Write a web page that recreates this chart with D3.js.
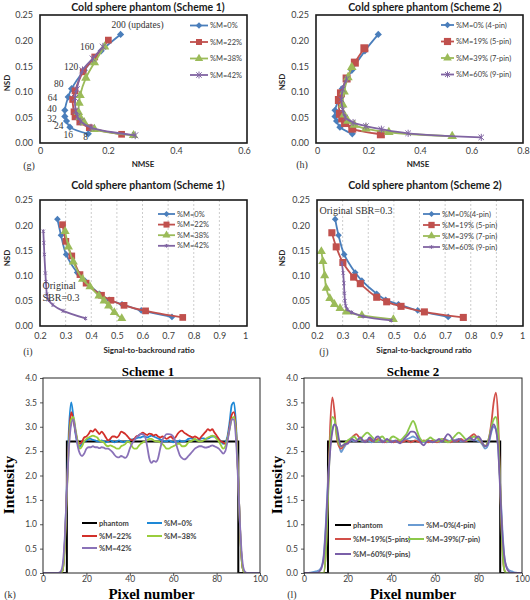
<!DOCTYPE html>
<html><head><meta charset="utf-8">
<script src="https://cdn.jsdelivr.net/npm/d3@7"></script>
<style>body{margin:0;background:#fff}svg{display:block}</style>
</head><body><svg id="c" width="530" height="600"></svg>
<script>
// ---------- DATA ----------
const updates = [200,160,120,80,64,40,32,24,16,8];
// Scheme 1 (g, i)
const nsd1_m0  = [0.212,0.180,0.142,0.106,0.090,0.064,0.052,0.043,0.031,0.018];
const nmse1_m0 = [0.237,0.180,0.130,0.093,0.083,0.073,0.073,0.078,0.088,0.142];
const nsd1_m22 = [0.201,0.168,0.139,0.102,0.085,0.061,0.051,0.041,0.030,0.017];
const nmse1_m22= [0.201,0.161,0.127,0.103,0.096,0.100,0.103,0.117,0.145,0.240];
const nsd1_m38 = [0.188,0.157,0.127,0.093,0.078,0.060,0.050,0.040,0.027,0.015];
const nmse1_m38= [0.190,0.160,0.135,0.118,0.115,0.113,0.118,0.130,0.160,0.275];
const nsd1_m42 = [0.188,0.165,0.142,0.105,0.088,0.063,0.052,0.042,0.030,0.015];
const nmse1_m42= [0.185,0.155,0.125,0.108,0.103,0.105,0.110,0.120,0.150,0.280];
const sbr1_m0  = [0.268,0.282,0.302,0.345,0.375,0.432,0.470,0.520,0.595,0.715];
const sbr1_m22 = [0.288,0.301,0.324,0.356,0.380,0.440,0.477,0.528,0.612,0.757];
const sbr1_m38 = [0.298,0.311,0.330,0.366,0.395,0.430,0.450,0.468,0.490,0.519];
const sbr1_m42 = [0.213,0.215,0.217,0.221,0.223,0.227,0.233,0.250,0.290,0.378];
// Scheme 2 (h, j)
const nsd2_m0  = [0.212,0.180,0.142,0.106,0.090,0.064,0.052,0.043,0.031,0.018];
const nmse2_m0 = [0.238,0.186,0.135,0.098,0.088,0.070,0.070,0.076,0.089,0.137];
const nsd2_m19 = [0.185,0.157,0.126,0.097,0.084,0.057,0.048,0.039,0.028,0.017];
const nmse2_m19= [0.184,0.147,0.115,0.093,0.085,0.089,0.098,0.109,0.137,0.248];
const nsd2_m39 = [0.148,0.128,0.100,0.075,0.055,0.043,0.035,0.028,0.021,0.013];
const nmse2_m39= [0.135,0.120,0.105,0.100,0.105,0.120,0.145,0.190,0.279,0.525];
const nsd2_m60 = [0.125,0.105,0.085,0.065,0.050,0.040,0.033,0.027,0.019,0.011];
const nmse2_m60= [0.115,0.100,0.095,0.100,0.110,0.140,0.190,0.250,0.354,0.638];
const sbr2_m0  = [0.271,0.284,0.306,0.349,0.375,0.433,0.468,0.518,0.593,0.712];
const sbr2_m19 = [0.258,0.275,0.301,0.343,0.369,0.433,0.472,0.528,0.619,0.771];
const sbr2_m39 = [0.217,0.223,0.230,0.236,0.250,0.268,0.290,0.315,0.375,0.498];
const sbr2_m60 = [0.297,0.302,0.305,0.307,0.309,0.312,0.318,0.335,0.380,0.490];

const names1 = ["%M=0%","%M=22%","%M=38%","%M=42%"];
const names2 = ["%M=0% (4-pin)","%M=19% (5-pin)","%M=39% (7-pin)","%M=60% (9-pin)"];
const names2b = ["%M=0%(4-pin)","%M=19% (5-pin)","%M=39% (7-pin)","%M=60% (9-pin)"];
const namesK = ["phantom","%M=0%","%M=22%","%M=38%","%M=42%"];
const namesL = ["phantom","%M=0%(4-pin)","%M=19%(5-pins)","%M=39%(7-pin)","%M=60%(9-pins)"];

const nsdTicks = [0,0.05,0.10,0.15,0.20,0.25];
const nmseTicks1 = [0,0.2,0.4,0.6];
const nmseTicks2 = [0,0.2,0.4,0.6,0.8];
const sbrTicks = [0.2,0.3,0.4,0.5,0.6,0.7,0.8,0.9,1];
const intTicks = [0,0.5,1,1.5,2,2.5,3,3.5,4];
const pixTicks = [0,20,40,60,80,100];

// Line profiles (pixel 0..100)
const pixels = d3.range(0,101);
const phantomX = [0,11,11,90,90,100];
const phantomY = [0,0,2.7,2.7,0,0];
const k_m0 = [0,0,0,0,0,0,0,0,0,
 0.05,0.6,1.8,3.0,3.5,3.2,2.85,2.65,2.6,2.65,2.7,
 2.72,2.75,2.75,2.73,2.72,2.7,2.7,2.72,2.7,2.68,
 2.7,2.72,2.7,2.68,2.7,2.72,2.7,2.68,2.7,2.7,
 2.72,2.74,2.75,2.76,2.78,2.78,2.8,2.8,2.78,2.8,
 2.82,2.8,2.78,2.76,2.74,2.72,2.7,2.7,2.72,2.7,
 2.68,2.7,2.7,2.72,2.7,2.7,2.72,2.75,2.76,2.75,
 2.74,2.72,2.74,2.76,2.76,2.75,2.76,2.78,2.8,2.8,
 2.78,2.75,2.7,2.65,2.68,2.8,3.1,3.45,3.5,3.0,
 1.9,0.7,0.1,0,0,0,0,0,0,0,0];
const k_m22 = [0,0,0,0,0,0,0,0,0,
 0.05,0.55,1.7,2.8,3.3,3.15,2.9,2.7,2.65,2.7,2.78,
 2.8,2.85,2.92,2.9,2.95,2.9,2.85,2.9,2.85,2.78,
 2.72,2.75,2.8,2.8,2.78,2.82,2.9,2.88,2.85,2.8,
 2.75,2.72,2.75,2.8,2.82,2.85,2.88,2.85,2.83,2.86,
 2.85,2.82,2.84,2.8,2.78,2.8,2.78,2.75,2.78,2.8,
 2.75,2.78,2.85,2.9,2.92,2.88,2.85,2.82,2.8,2.78,
 2.8,2.78,2.75,2.8,2.85,2.9,2.95,2.92,2.95,2.88,
 2.82,2.75,2.7,2.68,2.65,2.75,3.0,3.25,3.3,2.9,
 1.9,0.7,0.1,0,0,0,0,0,0,0,0];
const k_m38 = [0,0,0,0,0,0,0,0,0,
 0.05,0.5,1.6,2.7,3.15,3.2,2.95,2.7,2.55,2.6,2.7,
 2.75,2.78,2.8,2.82,2.8,2.78,2.72,2.7,2.68,2.62,
 2.6,2.62,2.6,2.58,2.55,2.55,2.6,2.62,2.65,2.7,
 2.68,2.6,2.55,2.55,2.6,2.65,2.68,2.7,2.72,2.75,
 2.75,2.72,2.7,2.7,2.68,2.65,2.6,2.55,2.55,2.58,
 2.6,2.62,2.65,2.65,2.6,2.6,2.62,2.68,2.7,2.72,
 2.75,2.72,2.7,2.7,2.72,2.75,2.78,2.8,2.82,2.8,
 2.75,2.7,2.62,2.55,2.6,2.75,2.95,3.15,3.2,2.85,
 1.9,0.7,0.1,0,0,0,0,0,0,0,0];
const k_m42 = [0,0,0,0,0,0,0,0,
 0.02,0.15,0.7,1.7,2.6,3.05,3.15,2.9,2.6,2.45,2.4,2.45,
 2.55,2.58,2.58,2.6,2.58,2.58,2.56,2.58,2.57,2.55,
 2.55,2.52,2.48,2.42,2.38,2.37,2.4,2.38,2.36,2.42,
 2.55,2.65,2.72,2.78,2.82,2.85,2.85,2.8,2.6,2.35,
 2.26,2.3,2.28,2.35,2.55,2.72,2.8,2.85,2.85,2.84,
 2.8,2.7,2.55,2.42,2.36,2.33,2.35,2.4,2.45,2.5,
 2.55,2.58,2.6,2.6,2.58,2.57,2.58,2.6,2.62,2.6,
 2.58,2.55,2.5,2.45,2.5,2.7,2.95,3.15,3.15,2.7,
 1.8,0.8,0.2,0.03,0,0,0,0,0,0,0];
const l_m0 = [0,0,0,
 0.01,0.02,0.03,0.04,0.06,0.12,0.35,1.0,1.9,2.6,2.95,3.05,2.95,2.65,2.48,2.55,2.62,
 2.68,2.7,2.72,2.7,2.72,2.74,2.72,2.7,2.72,2.72,
 2.7,2.68,2.7,2.72,2.7,2.7,2.72,2.7,2.68,2.7,
 2.72,2.7,2.7,2.72,2.7,2.7,2.72,2.74,2.76,2.78,
 2.8,2.78,2.75,2.72,2.7,2.68,2.7,2.72,2.7,2.7,
 2.72,2.7,2.68,2.7,2.72,2.74,2.72,2.7,2.7,2.72,
 2.74,2.72,2.7,2.7,2.72,2.74,2.75,2.74,2.72,2.72,
 2.7,2.68,2.62,2.55,2.58,2.7,2.9,3.0,2.95,2.6,
 1.8,0.9,0.3,0.12,0.06,0.04,0.02,0.01,0,0,0];
const l_m19 = [0,0,0,0,0,0,0,0,0,0,
 0.4,1.6,3.0,3.6,3.3,2.8,2.6,2.55,2.6,2.65,
 2.7,2.72,2.78,2.82,2.85,2.8,2.75,2.72,2.7,2.72,
 2.75,2.72,2.7,2.72,2.75,2.72,2.7,2.68,2.7,2.72,
 2.7,2.68,2.7,2.72,2.7,2.68,2.7,2.72,2.7,2.68,
 2.7,2.72,2.7,2.68,2.7,2.72,2.7,2.68,2.7,2.72,
 2.7,2.68,2.7,2.72,2.75,2.72,2.7,2.68,2.7,2.72,
 2.7,2.72,2.75,2.72,2.7,2.72,2.78,2.82,2.85,2.8,
 2.75,2.7,2.65,2.6,2.65,2.8,3.1,3.5,3.7,3.2,
 1.8,0.5,0.05,0,0,0,0,0,0,0,0];
const l_m39 = [0,0,0,0,0,0,0,0,0,0,
 0.4,1.5,2.7,3.2,3.15,2.85,2.65,2.6,2.62,2.68,
 2.72,2.75,2.78,2.8,2.75,2.72,2.75,2.8,2.85,2.88,
 2.85,2.8,2.75,2.7,2.72,2.78,2.8,2.75,2.7,2.72,
 2.78,2.8,2.78,2.75,2.72,2.75,2.8,2.85,2.95,3.05,
 3.12,3.05,2.9,2.78,2.72,2.7,2.72,2.75,2.78,2.75,
 2.72,2.7,2.72,2.75,2.72,2.7,2.68,2.7,2.75,2.8,
 2.85,2.88,2.85,2.8,2.75,2.72,2.75,2.78,2.8,2.78,
 2.75,2.72,2.65,2.6,2.65,2.8,3.0,3.15,3.2,2.9,
 1.8,0.5,0.05,0,0,0,0,0,0,0,0];
const l_m60 = [0,0,0,0,0,0,0,
 0.03,0.1,0.3,0.9,1.8,2.5,2.9,3.05,3.0,2.75,2.6,2.62,2.65,
 2.65,2.7,2.75,2.72,2.7,2.75,2.78,2.72,2.68,2.72,
 2.78,2.75,2.7,2.78,2.8,2.75,2.68,2.7,2.75,2.72,
 2.68,2.7,2.72,2.68,2.66,2.7,2.75,2.8,2.85,2.9,
 2.9,2.88,2.8,2.72,2.65,2.62,2.68,2.72,2.7,2.68,
 2.7,2.72,2.75,2.7,2.72,2.8,2.85,2.82,2.75,2.7,
 2.72,2.75,2.72,2.7,2.72,2.75,2.78,2.75,2.72,2.78,
 2.8,2.75,2.65,2.6,2.62,2.75,2.95,3.05,2.95,2.6,
 1.7,0.8,0.3,0.1,0.03,0,0,0,0,0,0];

// ---------- STYLE ----------
const SANS = 'Lato, "Open Sans", sans-serif';
const SERIF = '"Liberation Serif", "DejaVu Serif", serif';
const C = {blue:"#4a7ebb", red:"#c0504d", green:"#9bbb59", purple:"#8064a2"};
const svg = d3.select("#c");

function drawMarker(g, type, x, y, size, color){
  if(type==="diamond"){
    g.append("path").attr("d", d3.symbol(d3.symbolSquare, size)())
     .attr("transform",`translate(${x},${y}) rotate(45)`).attr("fill",color);
  } else if(type==="square"){
    g.append("path").attr("d", d3.symbol(d3.symbolSquare, size)())
     .attr("transform",`translate(${x},${y})`).attr("fill",color);
  } else if(type==="triangle"){
    g.append("path").attr("d", d3.symbol(d3.symbolTriangle, size)())
     .attr("transform",`translate(${x},${y})`).attr("fill",color);
  } else if(type==="star"){
    const s = Math.sqrt(size)/2;
    g.append("path").attr("d",`M${-s},${-s}L${s},${s}M${-s},${s}L${s},${-s}M0,${-s*1.3}L0,${s*1.3}`)
     .attr("transform",`translate(${x},${y})`).attr("stroke",color).attr("stroke-width",1).attr("fill","none");
  }
}

function scatterPanel(o){
  const g = svg.append("g");
  const x = d3.scaleLinear().domain(o.xDomain).range(o.xRange);
  const y = d3.scaleLinear().domain([0,0.25]).range(o.yRange);
  if(o.grid){
    g.selectAll("line.grid").data(o.xTicks.slice(1,-1)).join("line")
      .attr("x1",d=>x(d)).attr("x2",d=>x(d)).attr("y1",o.yRange[0]).attr("y2",o.yRange[1])
      .attr("stroke","#bfbfbf").attr("stroke-width",0.8).attr("stroke-dasharray","2,2");
  }
  // axes
  const ax = g.append("g").attr("transform",`translate(0,${o.yRange[0]})`)
    .call(d3.axisBottom(x).tickValues(o.xTicks).tickSize(0).tickPadding(o.xPad).tickFormat(o.xFmt));
  ax.select(".domain").remove();
  ax.selectAll("text").attr("font-family",SANS).attr("font-size",9).attr("fill","#404040");
  const ay = g.append("g").attr("transform",`translate(${o.frame[0]},0)`)
    .call(d3.axisLeft(y).tickValues(nsdTicks).tickSize(0).tickPadding(7).tickFormat(d3.format(".2f")));
  ay.select(".domain").remove();
  ay.selectAll("text").attr("font-family",SANS).attr("font-size",9).attr("fill","#404040");
  // series
  o.series.forEach(s=>{
    const pts = s.x.map((v,i)=>[x(v), y(s.y[i])]);
    g.append("path").attr("d", d3.line().curve(d3.curveCatmullRom.alpha(0.5))(pts))
      .attr("fill","none").attr("stroke",s.color).attr("stroke-width",1.8);
    pts.forEach(p=>drawMarker(g, s.marker, p[0], p[1], s.size, s.color));
  });
  // frame
  g.append("rect").attr("x",o.frame[0]).attr("y",o.frame[1])
    .attr("width",o.frame[2]-o.frame[0]).attr("height",o.frame[3]-o.frame[1])
    .attr("fill","none").attr("stroke","#1a1a1a").attr("stroke-width",1.6);
  // legend
  o.series.forEach((s,i)=>{
    const ly = o.legend.y + i*o.legend.dy;
    g.append("line").attr("x1",o.legend.x).attr("x2",o.legend.x+o.legend.len)
      .attr("y1",ly).attr("y2",ly).attr("stroke",s.color).attr("stroke-width",1.8);
    drawMarker(g, s.marker, o.legend.x+o.legend.len/2, ly, s.size*0.8, s.color);
    g.append("text").attr("x",o.legend.x+o.legend.len+2).attr("y",ly).attr("dy","0.35em")
      .attr("font-family",SANS).attr("font-size",7.5).attr("fill","#404040").text(o.names[i]);
  });
  // titles
  g.append("text").attr("x",o.title[0]).attr("y",o.title[1]).attr("dy","0.35em").attr("text-anchor","middle")
    .attr("font-family",SANS).attr("font-weight","bold").attr("font-size",10.5).attr("fill","#1a1a1a").text(o.title[2]);
  g.append("text").attr("x",o.xlab[0]).attr("y",o.xlab[1]).attr("dy","0.35em").attr("text-anchor","middle")
    .attr("font-family",SANS).attr("font-weight","bold").attr("font-size",8).attr("fill","#262626").text(o.xlab[2]);
  g.append("text").attr("transform",`translate(${o.ylab[0]},${o.ylab[1]}) rotate(-90)`).attr("dy","0.35em").attr("text-anchor","middle")
    .attr("font-family",SANS).attr("font-weight","bold").attr("font-size",8).attr("fill","#262626").text("NSD");
  g.append("text").attr("x",o.letter[0]).attr("y",o.letter[1]).attr("dy","0.35em").attr("text-anchor","middle")
    .attr("font-family",SERIF).attr("font-size",10).attr("fill","#333").text(o.letter[2]);
  return {g,x,y};
}

const fmt1 = d => d===0 ? "0" : d3.format(".1f")(d);
const fmtS = d => d===1 ? "1" : d3.format(".1f")(d);

// (g)
const pg = scatterPanel({
  xDomain:[0,0.6], xRange:[40,244], yRange:[143,15], frame:[40,15,247,143],
  xTicks:nmseTicks1, xFmt:fmt1, grid:false, xPad:5,
  series:[
    {x:nmse1_m0,y:nsd1_m0,color:C.blue,marker:"diamond",size:26},
    {x:nmse1_m22,y:nsd1_m22,color:C.red,marker:"square",size:45},
    {x:nmse1_m38,y:nsd1_m38,color:C.green,marker:"triangle",size:38},
    {x:nmse1_m42,y:nsd1_m42,color:C.purple,marker:"star",size:36}],
  names:names1, legend:{x:190,y:25.5,dy:16.5,len:18},
  title:[148,7,"Cold sphere phantom (Scheme 1)"], xlab:[143,164,"NMSE"], ylab:[7,83], letter:[29,165,"(g)"]
});
// update labels in (g)
const updOff = [[-9,-10,"start"],[-7,-4,"end"],[-6,-4,"end"],[-8,-5,"end"],[-11,1,"end"],[-8,-2,"end"],[-8,2,"end"],[-3,5,"end"],[3,8,"end"],[-5,3,"start"]];
updates.forEach((u,i)=>{
  const o = updOff[i];
  pg.g.append("text").attr("x",pg.x(nmse1_m0[i])+o[0]).attr("y",pg.y(nsd1_m0[i])+o[1]).attr("dy","0.35em")
    .attr("text-anchor",o[2]).attr("font-family",SERIF).attr("font-size",9.5).attr("fill","#333")
    .text(i===0 ? "200 (updates)" : u);
});

// (h)
scatterPanel({
  xDomain:[0,0.8], xRange:[317,523], yRange:[143,15], frame:[316,15,523,143],
  xTicks:nmseTicks2, xFmt:fmt1, grid:false, xPad:5,
  series:[
    {x:nmse2_m0,y:nsd2_m0,color:C.blue,marker:"diamond",size:26},
    {x:nmse2_m19,y:nsd2_m19,color:C.red,marker:"square",size:64},
    {x:nmse2_m39,y:nsd2_m39,color:C.green,marker:"triangle",size:40},
    {x:nmse2_m60,y:nsd2_m60,color:C.purple,marker:"star",size:30}],
  names:names2, legend:{x:441,y:25,dy:16.5,len:13},
  title:[425,7,"Cold sphere phantom (Scheme 2)"], xlab:[418,164,"NMSE"], ylab:[282,82], letter:[302,164,"(h)"]
});

// (i)
const pi = scatterPanel({
  xDomain:[0.2,1], xRange:[40,245], yRange:[326,200], frame:[40,200,247,326],
  xTicks:sbrTicks, xFmt:fmtS, grid:true, xPad:7,
  series:[
    {x:sbr1_m0,y:nsd1_m0,color:C.blue,marker:"diamond",size:22},
    {x:sbr1_m22,y:nsd1_m22,color:C.red,marker:"square",size:45},
    {x:sbr1_m38,y:nsd1_m38,color:C.green,marker:"triangle",size:36},
    {x:sbr1_m42,y:nsd1_m42,color:C.purple,marker:"star",size:10}],
  names:names1, legend:{x:158,y:214,dy:10.6,len:17},
  title:[148,185,"Cold sphere phantom (Scheme 1)"], xlab:[149,350,"Signal-to-backround ratio"], ylab:[7,258], letter:[28,351,"(i)"]
});
pi.g.append("text").attr("x",pi.x(0.21)).attr("y",pi.y(0.080)).attr("dy","0.35em")
  .attr("font-family",SERIF).attr("font-size",10).attr("fill","#333").text("Original");
pi.g.append("text").attr("x",pi.x(0.21)).attr("y",pi.y(0.057)).attr("dy","0.35em")
  .attr("font-family",SERIF).attr("font-size",10).attr("fill","#333").text("SBR=0.3");

// (j)
const pj = scatterPanel({
  xDomain:[0.2,1], xRange:[317,522], yRange:[326,200], frame:[317,200,523,326],
  xTicks:sbrTicks, xFmt:fmtS, grid:true, xPad:7,
  series:[
    {x:sbr2_m0,y:nsd2_m0,color:C.blue,marker:"diamond",size:22},
    {x:sbr2_m19,y:nsd2_m19,color:C.red,marker:"square",size:50},
    {x:sbr2_m39,y:nsd2_m39,color:C.green,marker:"triangle",size:36},
    {x:sbr2_m60,y:nsd2_m60,color:C.purple,marker:"star",size:10}],
  names:names2b, legend:{x:423,y:214,dy:11,len:17},
  title:[425,185,"Cold sphere phantom (Scheme 2)"], xlab:[424,350,"Signal-to-background ratio"], ylab:[282,258], letter:[324,351,"(j)"]
});
pj.g.append("text").attr("x",pj.x(0.21)).attr("y",pj.y(0.23)).attr("dy","0.35em")
  .attr("font-family",SERIF).attr("font-size",10).attr("fill","#333").text("Original SBR=0.3");

// ---------- profile panels ----------
function profilePanel(o){
  const g = svg.append("g");
  const x = d3.scaleLinear().domain([0,100]).range(o.xRange);
  const y = d3.scaleLinear().domain([0,4]).range([573,378]);
  const clipId = "clip"+o.letter[2].replace(/\W/g,"");
  g.append("clipPath").attr("id",clipId).append("rect")
    .attr("x",o.xRange[0]).attr("y",376).attr("width",o.xRange[1]-o.xRange[0]).attr("height",197);
  const ax = g.append("g").attr("transform",`translate(0,573)`)
    .call(d3.axisBottom(x).tickValues(pixTicks).tickSize(3).tickPadding(0));
  ax.select(".domain").remove();
  ax.selectAll("line").attr("stroke","#595959");
  ax.selectAll("text").attr("font-family",SANS).attr("font-size",8.5).attr("fill","#404040");
  const ay = g.append("g").attr("transform",`translate(${o.xRange[0]},0)`)
    .call(d3.axisLeft(y).tickValues(intTicks).tickSize(3).tickPadding(3).tickFormat(d3.format(".1f")));
  ay.select(".domain").remove();
  ay.selectAll("line").attr("stroke","#595959");
  ay.selectAll("text").attr("font-family",SANS).attr("font-size",8.5).attr("fill","#404040");
  const pg = g.append("g").attr("clip-path",`url(#${clipId})`);
  pg.append("path").attr("d", d3.line()(phantomX.map((v,i)=>[x(v),y(phantomY[i])])))
    .attr("fill","none").attr("stroke","#000").attr("stroke-width",2);
  o.series.forEach(s=>{
    pg.append("path").attr("d", d3.line().curve(d3.curveMonotoneX)(pixels.map((p,i)=>[x(p),y(s.v[i])])))
      .attr("fill","none").attr("stroke",s.color).attr("stroke-width",1.8);
  });
  g.append("rect").attr("x",o.xRange[0]).attr("y",378).attr("width",o.xRange[1]-o.xRange[0]).attr("height",195)
    .attr("fill","none").attr("stroke","#262626").attr("stroke-width",1);
  // legend
  const items = [{color:"#000"}].concat(o.series);
  items.forEach((s,i)=>{
    const col = i%2, row = Math.floor(i/2);
    const lx = o.legend.x[col], ly = o.legend.y[row];
    g.append("line").attr("x1",lx).attr("x2",lx+o.legend.len).attr("y1",ly).attr("y2",ly)
      .attr("stroke",s.color).attr("stroke-width",2);
    g.append("text").attr("x",lx+o.legend.len+2).attr("y",ly).attr("dy","0.35em")
      .attr("font-family",SANS).attr("font-size",7.5).attr("font-weight","bold").attr("fill","#404040").text(o.names[i]);
  });
  g.append("text").attr("x",o.title[0]).attr("y",371).attr("dy","0.35em").attr("text-anchor","middle")
    .attr("font-family",SERIF).attr("font-weight","bold").attr("font-size",13).attr("fill","#000").text(o.title[1]);
  g.append("text").attr("x",(o.xRange[0]+o.xRange[1])/2).attr("y",598.5).attr("text-anchor","middle")
    .attr("font-family",SERIF).attr("font-weight","bold").attr("font-size",15).attr("fill","#000").text("Pixel number");
  g.append("text").attr("transform",`translate(${o.ylab},485) rotate(-90)`).attr("dy","0.35em").attr("text-anchor","middle")
    .attr("font-family",SERIF).attr("font-weight","bold").attr("font-size",15.5).attr("fill","#000").text("Intensity");
  g.append("text").attr("x",o.letter[0]).attr("y",o.letter[1]).attr("dy","0.35em").attr("text-anchor","middle")
    .attr("font-family",SERIF).attr("font-size",10).attr("fill","#333").text(o.letter[2]);
}

profilePanel({
  xRange:[43,260], title:[148,"Scheme 1"], ylab:9, letter:[10,594,"(k)"],
  series:[{v:k_m0,color:"#1e88d6"},{v:k_m22,color:"#d2302a"},{v:k_m38,color:"#9acd3c"},{v:k_m42,color:"#8a72b8"}],
  names:namesK, legend:{x:[82,147],y:[523,536,548],len:15}
});
profilePanel({
  xRange:[304,522], title:[413,"Scheme 2"], ylab:277, letter:[292,594,"(l)"],
  series:[{v:l_m0,color:"#6a9bd2"},{v:l_m19,color:"#d24f49"},{v:l_m39,color:"#8cc84a"},{v:l_m60,color:"#7a5fa8"}],
  names:namesL, legend:{x:[335,408],y:[525,539,554],len:16}
});
</script></body></html>
